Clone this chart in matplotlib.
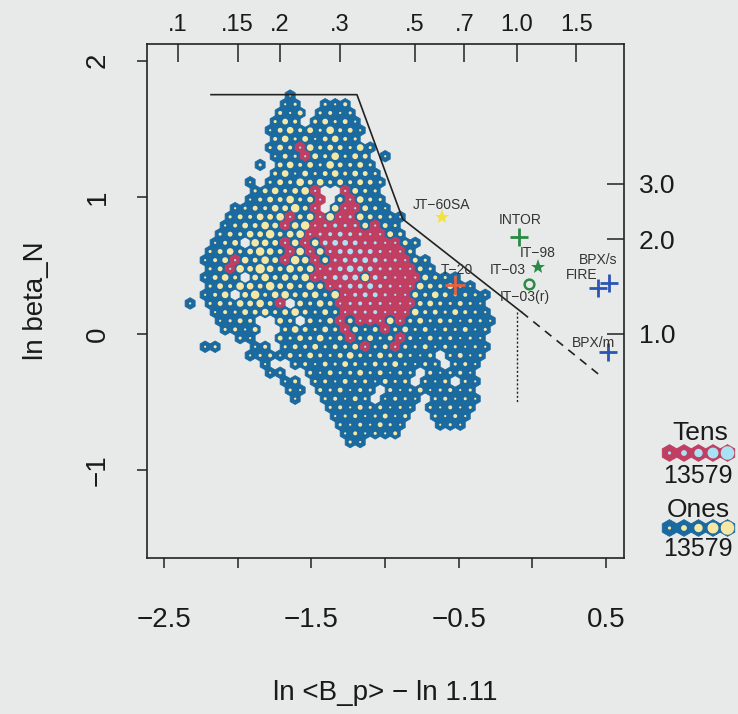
import numpy as np
import matplotlib.pyplot as plt
from matplotlib.collections import PolyCollection

plt.rcParams['font.family'] = ['Liberation Sans', 'DejaVu Sans']

# hexbin counts, one string per hex row from the top.
# '.' empty, '1'-'9' count below ten, 'a'-'i' count in the tens (tens digit)
HEX_ROWS = [
    "...........1",
    "..........12..213",
    "..........314.2312",
    ".........253.35241",
    ".........1463527341",
    ".........362514632",
    ".........253a6354262",
    ".........142a537254.1",
    "........2.4635274352",
    ".........36152463542",
    ".......1.253746353542",
    ".......246357a..a532",
    ".......1354735a.4a632",
    ".....12436584a.6aa531",
    ".....243657a46a7ab64321",
    "....135475a68abcbb5a42",
    "....243658467abcdcbaa53",
    "...135.765a6a6deedbbaa42",
    "...24635864a7a6bdeddbaa3",
    "..135a6475a86a5bddedbba42",
    "...24a75964756abdfedbbaa42",
    "..1463.574657abdee7dbaaa5321",
    "...253764856375abddecbaa643521",
    "..136.5836745637acddbaa53642321",
    ".1.2436574a.5364abcbbaaa4532421",
    "...1325463574253abbcaaa63425321",
    "....1243..53.425a4aba6a352431321",
    "....2314..364253a524a3524132412",
    "......21..4253624a3524a31423121",
    "..12...13.24352435a24a324132121",
    ".......1231425324632534213.2412",
    "........1..231425324352132.231",
    ".........12..31423524132.31231",
    "..........13.2314231423.213.21",
    "...........21.324132.312412312",
    "...........1..23142.1321.23121",
    "...............231423121.21312",
    "...............12312413..2131",
    "................2131421...121",
    "................131213",
    ".................21",
]

# hex lattice: centre of column 0 / row 0 and spacings (data units)
GRID_X0 = -2.393
GRID_Y0 = 1.744
HEX_DX = 0.068
HEX_DY = 0.0634

# stability limit drawn over the cloud
LIMIT_X = [-2.183, -1.191, -0.880, -0.072]
LIMIT_Y = [1.751, 1.751, 0.840, 0.159]
LIMIT_EXT_X = [-0.072, 0.471]
LIMIT_EXT_Y = [0.159, -0.313]
VLINE_X = -0.104
VLINE_Y = [0.16, -0.505]

# devices
DEV_NAMES = ["JT-60SA", "INTOR", "IT-98", "IT-03", "T-20", "FIRE", "BPX/s", "BPX/m"]
DEV_X = [-0.615, -0.088, 0.041, -0.022, -0.525, 0.448, 0.523, 0.516]
DEV_Y = [0.855, 0.708, 0.489, 0.364, 0.359, 0.335, 0.371, -0.130]

# device labels
LABEL_TEXT = ["JT\u221260SA", "INTOR", "IT\u221298", "IT\u221203", "IT\u221203(r)",
              "T\u221220", "BPX/s", "FIRE", "BPX/m"]
LABEL_X = [-0.615, -0.084, 0.039, -0.163, -0.050, -0.510, 0.448, 0.336, 0.414]
LABEL_Y = [0.945, 0.830, 0.593, 0.464, 0.269, 0.464, 0.544, 0.434, -0.068]

BOTTOM_TICKS = [-2.5, -2.0, -1.5, -1.0, -0.5, 0.0, 0.5]
BOTTOM_LABELS = ["\u22122.5", "", "\u22121.5", "", "\u22120.5", "", "0.5"]
LEFT_TICKS = [-1, 0, 1, 2]
LEFT_LABELS = ["\u22121", "0", "1", "2"]
TOP_VALUES = [0.1, 0.15, 0.2, 0.3, 0.5, 0.7, 1.0, 1.5]
TOP_LABELS = [".1", ".15", ".2", ".3", ".5", ".7", "1.0", "1.5"]
RIGHT_VALUES = [1.0, 2.0, 3.0]
RIGHT_LABELS = ["1.0", "2.0", "3.0"]
LEGEND_DIGITS = [1, 3, 5, 7, 9]

BG = "#e8eae9"
ONES_HEX = "#1a6aa0"
ONES_DOT = "#f6e7a4"
TENS_HEX = "#c03e62"
TENS_DOT = "#a9e2f2"
INK = "#222222"


def hexagon(cx, cy, rx, ry):
    ang = np.radians([90, 30, -30, -90, -150, 150])
    return np.column_stack([cx + rx * np.cos(ang) / np.cos(np.radians(30)),
                            cy + ry * np.sin(ang)])


def disc(cx, cy, rx, ry):
    ang = np.linspace(0, 2 * np.pi, 24, endpoint=False)
    return np.column_stack([cx + rx * np.cos(ang), cy + ry * np.sin(ang)])


def cell_style(ch):
    if ch.isdigit():
        return ONES_HEX, ONES_DOT, int(ch)
    return TENS_HEX, TENS_DOT, ord(ch) - ord('a') + 1


def draw_cells(ax, centres, chars, half_w, rad_y):
    outer, outer_c, inner, inner_c = [], [], [], []
    for (cx, cy), ch in zip(centres, chars):
        hcol, dcol, d = cell_style(ch)
        outer.append(hexagon(cx, cy, half_w, rad_y))
        outer_c.append(hcol)
        f = 0.22 + 0.09 * (d - 1)   # inner disc grows with the digit
        inner.append(disc(cx, cy, f * half_w, f * rad_y * 0.866))
        inner_c.append(dcol)
    ax.add_collection(PolyCollection(outer, facecolors=outer_c, edgecolors=outer_c,
                                     linewidths=0.6))
    ax.add_collection(PolyCollection(inner, facecolors=inner_c, edgecolors='none'))


fig = plt.figure(figsize=(7.38, 7.14), dpi=100)
fig.patch.set_facecolor(BG)
ax = fig.add_axes([0.1992, 0.2185, 0.6457, 0.7199])
ax.set_facecolor(BG)
ax.set_xlim(-2.618, 0.621)
ax.set_ylim(-1.641, 2.122)

# hex cells
centres, chars = [], []
for r, row in enumerate(HEX_ROWS):
    for c, ch in enumerate(row):
        if ch == '.':
            continue
        cx = GRID_X0 + (c + 0.5 * (r % 2)) * HEX_DX
        cy = GRID_Y0 - r * HEX_DY
        centres.append((cx, cy))
        chars.append(ch)
draw_cells(ax, centres, chars, HEX_DX / 2, HEX_DY / 1.5)

# limit lines
ax.plot(LIMIT_X, LIMIT_Y, color=INK, lw=1.2)
ax.plot(LIMIT_EXT_X, LIMIT_EXT_Y, color=INK, lw=1.2, ls=(0, (5, 4)))
ax.plot([VLINE_X, VLINE_X], VLINE_Y, color=INK, lw=1.0, ls=(0, (1.5, 1.5)))

# devices
yellow, green, orange, blue = "#f3e23a", "#2b8a45", "#e8603c", "#2a55b5"
ax.plot(DEV_X[0], DEV_Y[0], marker='*', color=yellow, ms=11, mew=0)
ax.plot(DEV_X[1], DEV_Y[1], marker='+', color=green, ms=13, mew=2)
ax.plot(DEV_X[2], DEV_Y[2], marker='*', color=green, ms=11, mew=0)
ax.plot(DEV_X[3], DEV_Y[3], marker='o', mfc='none', mec=green, ms=7, mew=1.8)
ax.plot(DEV_X[4], DEV_Y[4], marker='+', color=orange, ms=15, mew=2)
for i in (5, 6, 7):
    ax.plot(DEV_X[i], DEV_Y[i], marker='+', color=blue, ms=13, mew=2)
for t, x, y in zip(LABEL_TEXT, LABEL_X, LABEL_Y):
    ax.text(x, y, t, fontsize=10, color="#333333", ha='center', va='center')

# axes, ticks, labels
for sp in ax.spines.values():
    sp.set_color(INK)
    sp.set_linewidth(1.2)
ax.set_xticks(BOTTOM_TICKS)
ax.set_xticklabels(BOTTOM_LABELS)
ax.set_yticks(LEFT_TICKS)
ax.set_yticklabels(LEFT_LABELS, rotation=90, va='center')
ax.tick_params(axis='both', direction='out', length=7, width=1.1, color=INK,
               labelsize=20, labelcolor="#1a1a1a")
ax.tick_params(axis='x', pad=28)
ax.tick_params(axis='y', pad=19)

top = ax.secondary_xaxis('top')
top.set_xticks(np.log(TOP_VALUES) - np.log(1.11))
top.set_xticklabels(TOP_LABELS)
top.tick_params(direction='in', length=13, width=1.1, color=INK, labelsize=17,
                labelcolor="#1a1a1a", pad=6)
top.spines['top'].set_visible(False)

right = ax.secondary_yaxis('right')
right.set_yticks(np.log(RIGHT_VALUES))
right.set_yticklabels(RIGHT_LABELS)
right.tick_params(direction='in', length=12, width=1.1, color=INK, labelsize=19,
                  labelcolor="#1a1a1a", pad=11)
right.spines['right'].set_visible(False)

ax.set_xlabel("ln <B_p> \u2212 ln 1.11", fontsize=20, color="#1a1a1a", labelpad=34)
ax.set_ylabel("ln beta_N", fontsize=20, color="#1a1a1a", labelpad=26)

# nested-lattice legend, drawn in pixel units
lg = fig.add_axes([655 / 738, 1 - 565 / 714, 83 / 738, 150 / 714])
lg.set_xlim(655, 738)
lg.set_ylim(565, 415)
lg.axis('off')
leg_x = [669.5 + 14.5 * i for i in range(len(LEGEND_DIGITS))]
tens_chars = [chr(ord('a') + d - 1) for d in LEGEND_DIGITS]
ones_chars = [str(d) for d in LEGEND_DIGITS]
draw_cells(lg, [(x, 453) for x in leg_x], tens_chars, 7.25, -8.37)
draw_cells(lg, [(x, 528) for x in leg_x], ones_chars, 7.25, -8.37)
lg.text(700, 433, "Tens", fontsize=19, ha='center', va='center', color="#1a1a1a")
lg.text(698, 476, "".join(ones_chars), fontsize=18, ha='center', va='center', color="#1a1a1a")
lg.text(698, 510, "Ones", fontsize=19, ha='center', va='center', color="#1a1a1a")
lg.text(698, 549, "".join(ones_chars), fontsize=18, ha='center', va='center', color="#1a1a1a")

fig.savefig("out.png", dpi=100, facecolor=BG)
